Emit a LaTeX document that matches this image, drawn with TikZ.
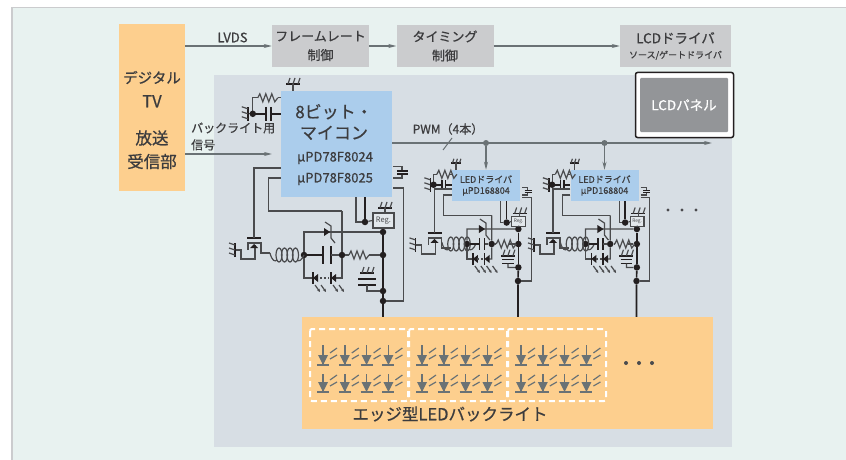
\documentclass[tikz,border=0pt]{standalone}
\usepackage{fontspec}
\setmainfont{Noto Sans CJK JP}
\newfontfamily\medfont[FakeBold=0.7]{Noto Sans CJK JP}
\usetikzlibrary{arrows.meta, calc}
\definecolor{pagetint}{HTML}{E8F2F0}
\definecolor{paneltint}{HTML}{D7DEE4}
\definecolor{boxgray}{HTML}{CBCCCE}
\definecolor{tvorange}{HTML}{FDCF8E}
\definecolor{chipblue}{HTML}{ABCDEC}
\definecolor{lcdgray}{HTML}{939598}
\definecolor{linegray}{HTML}{6A7275}
\definecolor{wiregray}{HTML}{4A4B4D}
\definecolor{busdark}{HTML}{231F20}
\definecolor{inkgray}{HTML}{3C3C3E}
\newcommand{\fsz}[1]{\fontsize{#1}{#1}\selectfont}
\tikzset{
    wire/.style={line width=1.2pt, draw=wiregray},
    bus/.style={line width=1.6pt, draw=busdark},
    sigline/.style={line width=1.5pt, draw=linegray},
    sigarr/.style={sigline, -{Stealth[length=8pt, width=4pt]}},
    junction/.style={circle, fill=busdark, inner sep=0pt, minimum size=6.5pt},
    block/.style={inner sep=0pt, text=inkgray, align=center},
    graybox/.style={block, fill=boxgray, minimum width=97pt, minimum height=42pt},
    bluebox/.style={block, fill=chipblue},
    tag/.style={inner sep=0pt, text=inkgray, align=left},
    pics/gnd/.style={code={
        \coordinate (-base) at (0,0);
        \draw[bus] (-7,0) -- (7,0);
        \foreach \t in {-5,0,5} \draw[wire] (\t,0) -- ++(2,-6);
    }},
    pics/res/.style={code={
        \draw[wire] (0,0) -- (2,-4) -- (5,4) -- (8,-4) -- (11,4) -- (14,-4) -- (17,4) -- (20,0);
    }},
    pics/coil/.style={code={
        \foreach \c in {0,5.5,11,16.5}
            \draw[wire] (\c,0) ellipse [x radius=3, y radius=7];
        \draw[wire] (-9,-2) .. controls (-7,6) and (-4,7) .. (-2,5);
        \draw[wire] (18,5) .. controls (20,7) and (23,5) .. (25,0);
    }},
    pics/fet/.style={code={
        \draw[bus] (-7,0) -- (7,0);
        \draw[wire] (-6,12) -- (-6,5) -- (7,5) -- (7,15) -- (16,15);
        \draw[wire] (-19,12) -- (-13,12) -- (-13,21) -- (1,21) -- (1,7);
        \fill[busdark] (-4,10) -- (4,10) -- (0,6) -- cycle;
        \pic[rotate=90] at (-19,12) {gnd};
    }},
    pics/zener/.style={code={
        \fill[busdark] (-3,-4) -- (-3,4) -- (3,0) -- cycle;
        \draw[wire] (-2,-10) -- (4,-6) -- (4,6) -- (8,11);
    }},
    pics/lamp/.style={code={
        \draw[bus] (0,-6) -- (0,6);
        \fill[busdark] (0,0) -- (5,-4) -- (5,4) -- cycle;
        \foreach \r in {2,8}
            \draw[wire, -{Stealth[length=3pt, width=3pt]}] (\r,7) -- ++(5,7);
    }},
    pics/ledcell/.style={code={
        \draw[line width=1.5pt, draw=linegray] (-6,0) -- (6,0);
        \draw[line width=1.5pt, draw=linegray] (0,-18) -- (0,1);
        \fill[linegray] (-5,-10) -- (5,-10) -- (0,0) -- cycle;
        \draw[line width=1.2pt, draw=linegray] (7,-12) -- (14,-17);
        \draw[line width=1.2pt, draw=linegray] (7,-6) -- (14,-10);
    }},
    pics/biasnet/.style={code={
        \pic at (-23,7) {res};
        \draw[wire] (-23,7) -- (-28,7) -- (-28,23);
        \draw[wire] (-3,7) -- (0,7);
        \draw[wire] (-33,23) -- (-28,23);
        \draw[bus] (-28,23) -- (-15,23) (-15,16) -- (-15,30);
        \draw[bus] (-10,16) -- (-10,30) (-10,23) -- (0,23);
        \pic[rotate=90] at (-33,23) {gnd};
        \node[junction] at (-28,23) {};
    }},
    pics/sidecap/.style={code={
        \draw[wire] (0,-6) -- (9,-6) -- (9,-2);
        \draw[wire] (0,5.5) -- (9,5.5) -- (9,2);
        \draw[bus] (4,-1.6) -- (15,-1.6) (4,1.6) -- (15,1.6);
    }},
    pics/ledstage/.style={code={
        \node[junction] (-L) at (0,0) {};
        \node[junction] (-M) at (38,0) {};
        \node[junction] (-R) at (79,0) {};
        \node[junction] (-T) at (79,-23) {};
        \node[junction] (-K) at (79,36) {};
        \node[junction] (-S) at (61,-33) {};
        \coordinate (-gate) at (-50,-17);
        \coordinate (-fb) at (38,-44);
        \coordinate (-sb) at (52,-33);
        \node[draw=wiregray, line width=1.2pt, fill=paneltint!70!white, inner sep=0pt,
              minimum width=21pt, minimum height=15pt, text=wiregray,
              font=\fsz{7.5}, transform shape] (-reg) at (79.5,-34.5) {Reg.};
        \pic at (-50,-17) {fet};
        \pic at (-25,0) {coil};
        \draw[wire] (-L) -- (0,-23) -- (-T);
        \pic at (23,-23) {zener};
        \draw[bus] (-L) -- (19,0) (19,-9) -- (19,9);
        \draw[bus] (27,-9) -- (27,9);
        \draw[wire] (27,0) -- (-M);
        \draw[wire] (-M) -- (45,0);
        \pic at (45,0) {res};
        \draw[wire] (65,0) -- (-R);
        \draw[wire] (-fb) -- (-M) -- (38,23) -- (32,23);
        \draw[wire] (-L) -- (0,23) -- (9,23);
        \pic at (9,23) {lamp};
        \pic at (27,23) {lamp};
        \draw[wire, dash pattern=on 2pt off 2pt] (16,23) -- (25,23);
        \draw[bus] (-T) -- (-K);
        \draw[wire] (-reg.south) -- (-T);
        \draw[wire] (-S) -- (-reg.west);
        \pic at (81,-47) {gnd};
        \draw[wire] (81,-47) -- (81,-42);
        \pic at (63,18) {gnd};
        \draw[bus] (54,24) -- (72,24) (54,30) -- (72,30);
        \draw[wire] (63,30) -- (63,36) -- (-K);
    }}
}
\begin{document}
\begin{tikzpicture}[x=1pt, y=-1pt]
    \useasboundingbox (0,0) rectangle (846,460);
    \fill[white] (0,0) rectangle (846,460);
    \fill[boxgray] (11,7) rectangle (846,460);
    \fill[pagetint] (12.5,8.5) rectangle (846,460);
    \fill[paneltint] (214,75) rectangle (732,447);

    % top row
    \node[block, fill=tvorange, minimum width=66pt, minimum height=167pt] (tvbox) at (152,107.5) {};
    \node[block, font=\fsz{16.5}\medfont] (tvtext) at (152,120)
        {{\fsz{14.5}デジタル}\\[7.5pt]TV\\[20.5pt]放送\\[7pt]受信部};
    \node[graybox, font=\fsz{13}\medfont] (framerate) at (320.5,46)
        {フレームレート\\[6pt]制御};
    \node[graybox, font=\fsz{13}\medfont] (timing) at (445,46)
        {タイミング\\[6pt]制御};
    \node[graybox, minimum width=111pt] (lcddrv) at (675.5,46)
        {\fsz{13.5}\medfont LCDドライバ\\[3pt]\fsz{9}\medfont ソース/ゲートドライバ};
    \node[tag, font=\fsz{13}\medfont] (lvds) at (232.5,37.5) {LVDS};
    \draw[sigarr] (tvbox.east |- framerate.west) -- (framerate.west);
    \draw[sigarr] (framerate) -- (timing);
    \draw[sigarr] (timing) -- (lcddrv);

    % lcd panel
    \node[draw=busdark, line width=1.5pt, fill=white, rounded corners=2pt,
          minimum width=98pt, minimum height=65pt] (lcdframe) at (684.5,105) {};
    \node[block, fill=lcdgray, text=white, rounded corners=1pt, font=\fsz{13.5}\medfont,
          minimum width=88pt, minimum height=54pt] (lcdpanel) at (684,105) {LCDパネル};

    % backlight
    \node[block, fill=tvorange, minimum width=411pt, minimum height=112pt] (ledbar) at (507.5,373) {};
    \foreach \g in {0,1,2} {
        \draw[white, line width=2pt, rounded corners=2pt, dash pattern=on 6pt off 4pt]
            (310+\g*99,329) rectangle ++(98,72);
        \foreach \c in {0,1,2,3} {
            \pic at (323+\g*99+\c*21.8,365) {ledcell};
            \draw[line width=1.5pt, draw=linegray] (323+\g*99+\c*21.8,345) -- ++(0,4);
            \pic at (323+\g*99+\c*21.8,392) {ledcell};
        }
    }
    \node[block, font=\fsz{16.5}\medfont] (ledtitle) at (450,414) {エッジ型LEDバックライト};
    \foreach \c in {626,639,652} \fill[wiregray] (\c,363) circle (2pt);
    \foreach \c in {668,682,696} \fill[wiregray] (\c,210) circle (1.7pt);

    % micro controller
    \node[bluebox, minimum width=111pt, minimum height=106pt] (mcu) at (336.5,144) {};
    \node[block, font=\fsz{17}\medfont] (mcuname) at (334,122) {8ビット・\\[4pt]マイコン};
    \node[block, font=\fsz{13}\medfont] (mcutype) at (335,168.5) {μPD78F8024\\[8pt]μPD78F8025};
    \node[tag, font=\fsz{12}\medfont, anchor=west] (blsignal) at (191,136.5)
        {バックライト用\\[5pt]信号};
    \coordinate (blend) at (272,154);
    \draw[sigarr] (tvbox.east |- blend) -- (blend);

    \pic at (mcu.north west) {biasnet};
    \pic (mcutop) at (293,84) {gnd};
    \draw[wire] (mcutop-base) -- (mcutop-base |- mcu.north);
    \pic at (393,172.5) {sidecap};
    \pic (main) at (304,255) {ledstage};
    \draw[wire] ([yshift=-24pt]mcu.west) -| (main-gate);
    \draw[wire] ([yshift=-34pt]mcu.west) -- ++(-12,0) |- (main-fb);
    \draw[bus] (main-S |- mcu.south) -- (main-S);
    \draw[wire] (main-sb |- mcu.south) -- (main-sb) -- (main-S);
    \node[junction] (mainret) at (383,301) {};
    \draw[bus] (main-K) -- (mainret) -- (mainret |- ledbar.north);
    \draw[wire] ([yshift=-44pt,xshift=1pt]mcu.east) -- ++(10,0) |- (mainret);

    % pwm rail and led drivers
    \coordinate (pwmend) at (712,143);
    \draw[sigarr] (mcu.east |- pwmend) -- (pwmend);
    \draw[sigline, line width=1pt] (443,150) -- (452,138);
    \node[tag, font=\fsz{12}\medfont] (pwmtag) at (448,129) {PWM（4本）};
    \foreach \drv/\x in {drvA/0, drvB/118.5} {
        \node[bluebox, font=\fsz{9}\medfont, minimum width=68pt, minimum height=31pt]
            (\drv) at (486+\x,185.5) {LEDドライバ\\[2pt]μPD168804};
        \node[circle, fill=linegray, inner sep=0pt, minimum size=6pt] (\drv-tap) at (\drv |- pwmend) {};
        \draw[sigarr] (\drv-tap) -- (\drv);
        \pic[scale=.65] at (\drv.north west) {biasnet};
        \pic[scale=.7] (\drv-top) at (456+\x,163) {gnd};
        \draw[wire] (\drv-top-base) -- (\drv-top-base |- \drv.north);
        \pic[scale=.65] at (522+\x,191.5) {sidecap};
        \pic[scale=.65] (\drv-st) at (467+\x,244) {ledstage};
        \draw[wire] ([yshift=-3.5pt]\drv.west) -| (\drv-st-gate);
        \draw[wire] ([yshift=-9.5pt]\drv.west) -- ++(-8,0) |- (\drv-st-fb);
        \draw[bus] (\drv-st-S |- \drv.south) -- (\drv-st-S);
        \draw[wire] (\drv-st-sb |- \drv.south) -- (\drv-st-sb) -- (\drv-st-S);
        \node[junction] (\drv-ret) at (518+\x,281) {};
        \draw[bus] (\drv-st-K) -- (\drv-ret) -- (\drv-ret |- ledbar.north);
        \draw[wire] ([yshift=-12pt,xshift=2pt]\drv.east) -- ++(9,0) |- (\drv-ret);
    }
\end{tikzpicture}
\end{document}
